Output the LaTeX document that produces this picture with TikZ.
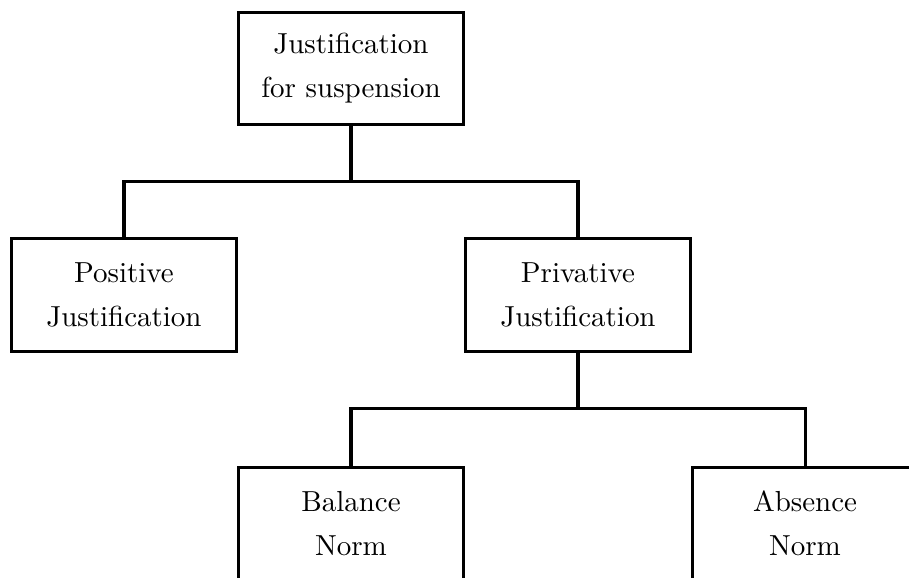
\documentclass[tikz,border=0pt]{standalone}
\begin{document}
\begin{tikzpicture}[x=0.345pt,y=-0.345pt,
  box/.style={draw, line width=1.05pt, minimum width=77.6pt, minimum height=38.7pt,
    inner sep=0pt, align=center, font=\fontsize{10pt}{15.2pt}\selectfont},
  link/.style={line width=1.05pt}]
\useasboundingbox (0,0) rectangle (909,577);
\clip (0,0) rectangle (909,577);

% boxes of the tree
\node[box] (root) at (351,68.5)  {Justification\\for suspension};
\node[box] (pos)  at (124,295)   {Positive\\Justification};
\node[box] (priv) at (578,295)   {Privative\\Justification};
\node[box] (bal)  at (351,523.5) {Balance\\Norm};
\node[box] (abs)  at (805,523.5) {Absence\\Norm};

% branching points
\coordinate (j1) at (351,181.5);
\coordinate (j2) at (578,408.5);

% connectors
\draw[link] (root.south) -- (j1);
\draw[link] (pos.north) |- (j1) -| (priv.north);
\draw[link] (priv.south) -- (j2);
\draw[link] (bal.north) |- (j2) -| (abs.north);
\end{tikzpicture}
\end{document}
